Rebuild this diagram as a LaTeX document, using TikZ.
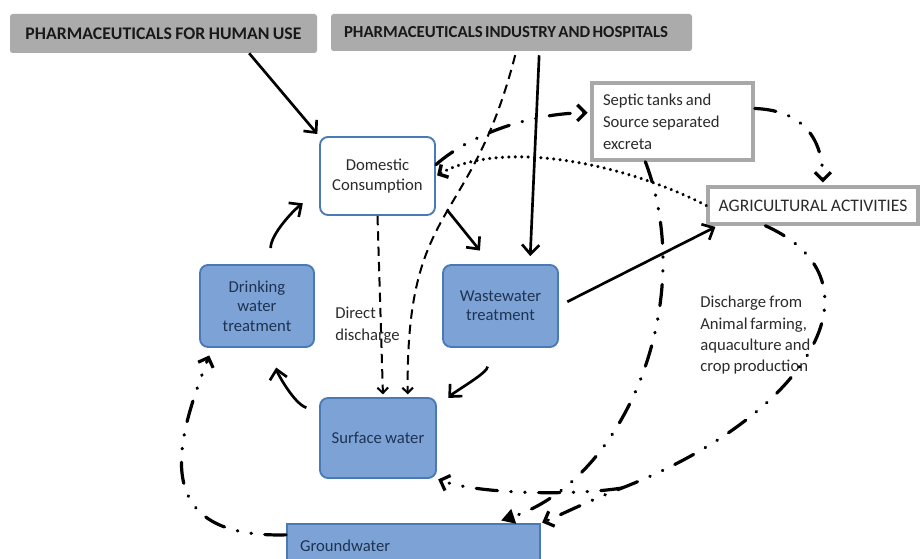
\documentclass[tikz,border=0pt]{standalone}
\usepackage{fontspec}
\setmainfont{Carlito}[WordSpace=0.85]
\newfontfamily\tightfont{Carlito}[WordSpace=0.6]
\usetikzlibrary{arrows.meta}
\definecolor{boxblue}{HTML}{7DA3D6}
\definecolor{edgeblue}{HTML}{4A7AB5}
\definecolor{hdrgray}{HTML}{ABABAB}
\definecolor{framegray}{HTML}{A8A8A8}
\definecolor{txtdark}{HTML}{2B2B2B}
\definecolor{txtblue}{HTML}{1E3252}
\begin{document}
\begin{tikzpicture}[x=0.75pt,y=-0.75pt,
  every node/.style={font=\fontsize{12.5}{14.5}\selectfont, text=txtdark},
  hdr/.style={fill=hdrgray, rounded corners=2pt, inner sep=0pt, text=black!90},
  bluebox/.style={draw=edgeblue, line width=1.4pt, fill=boxblue, rounded corners=6pt, align=center, text=txtblue, inner sep=0pt},
  whitebox/.style={draw=edgeblue, line width=1.4pt, fill=white, rounded corners=6pt, align=center, inner sep=0pt},
  framebox/.style={draw=framegray, line width=2.6pt, fill=white, inner sep=0pt},
  solidarrow/.style={line width=2pt, -{Straight Barb[length=7pt,width=13pt]}},
  dasharrow/.style={line width=1.5pt, dash pattern=on 7pt off 4.5pt, -{Straight Barb[length=4pt,width=8pt]}},
  dotarrow/.style={line width=2.6pt, line cap=round, dash pattern=on 0.01pt off 4.8pt, -{Straight Barb[length=5pt,width=11pt]}},
  ddline/.style={line width=2.4pt, line cap=round, dash pattern=on 16pt off 10pt on 0.4pt off 10pt on 0.4pt off 10pt},
  ddarrow/.style={ddline, -{Straight Barb[length=6pt,width=12pt]}},
  ddtri/.style={ddline, -{Triangle[length=10pt,width=11pt]}}
]
\fill[white] (0,0) rectangle (920,559);
\useasboundingbox (0,0) rectangle (920,559);

% nodes
\node[hdr, minimum width=230.25pt, minimum height=29.25pt, font=\fontsize{13.3}{15}\selectfont\bfseries] (hum) at (163.5,33.5) {PHARMACEUTICALS FOR HUMAN USE};
\node[hdr, minimum height=27.75pt, inner xsep=9.75pt, font=\tightfont\fontsize{12.6}{14}\selectfont\bfseries] (ind) at (511.5,32.5) {\makebox[251.25pt][l]{PHARMACEUTICALS INDUSTRY AND HOSPITALS}};
\node[whitebox, minimum width=86.25pt, minimum height=58.5pt] (dom) at (377.5,176) {Domestic\\Consumption};
\node[bluebox, minimum width=85.5pt, minimum height=61.5pt] (dwt) at (257,306) {Drinking\\water\\treatment};
\node[bluebox, minimum width=86.25pt, minimum height=61.5pt] (wwt) at (500.5,306) {Wastewater\\treatment};
\node[bluebox, minimum width=87pt, minimum height=60pt] (sw) at (378,438) {Surface water};
\node[bluebox, rounded corners=0pt, minimum height=33pt, inner xsep=9.75pt] (gw) at (413.5,546) {\makebox[170.25pt][l]{Groundwater}};
\node[framebox, minimum height=57.75pt, inner xsep=8.25pt, align=left, font=\fontsize{12.5}{16.5}\selectfont] (sep) at (672.5,121.5) {\makebox[104.25pt][l]{Septic\,tanks and}\\Source separated\\excreta};
\node[framebox, minimum width=157.5pt, minimum height=27.75pt, font=\fontsize{13.2}{15}\selectfont] (agri) at (813,205.5) {AGRICULTURAL ACTIVITIES};
\node[anchor=west, align=left, inner sep=0pt, font=\fontsize{12.5}{16.5}\selectfont] (dd) at (335,325) {Direct\\discharge};
\node[anchor=west, align=left, inner sep=0pt, font=\fontsize{12.5}{16}\selectfont] (df) at (700,335.5) {Discharge from\\Animal\,farming,\\aquaculture and\\crop production};

% solid connectors
\draw[solidarrow, shorten >=2pt] (hum.-13.5) -- (dom.north west);
\draw[solidarrow, shorten <=3pt, shorten >=6pt] (ind.-34) -- (wwt.55);
\draw[solidarrow, shorten <=13pt, shorten >=13pt] (dom.-19) -- (wwt.103);
\draw[solidarrow, shorten <=12pt, shorten >=15pt] (dwt.72) .. controls +(0,-30) and +(-25,18) .. (dom.195);
\draw[solidarrow, shorten <=10pt, shorten >=15pt] (sw.156) .. controls +(-25,-8) and +(5,25) .. (dwt.-70);
\draw[solidarrow, shorten <=14pt, shorten >=12pt] (wwt.-107) .. controls +(0,25) and +(18,-18) .. (sw.26);
\draw[solidarrow, shorten <=7pt, shorten >=2pt] (wwt.east) -- (agri.192.5);

% dashed connectors
\draw[dasharrow, shorten <=3pt, shorten >=2pt] (ind.-76) .. controls +(-46,179) and +(-2,-198) .. (sw.54);
\draw[dasharrow, shorten >=2pt] (dom.south) -- (sw.83);

% dotted connector
\draw[dotarrow, shorten >=1pt] (agri.west) .. controls +(-88,-45) and +(63,-36) .. (dom.east);

% dash-dot connectors
\draw[ddarrow, shorten >=2pt] (dom.11) .. controls +(40,-35) and +(-50,0) .. (sep.174);
\draw[ddarrow, shorten >=2pt] (sep.9.5) .. controls +(50,2) and +(0,-45) .. (agri.64);
\draw[ddtri, shorten >=6pt] (sep.-124) .. controls +(53,140) and +(132,-44) .. (gw.16.7);
\coordinate (m) at (622,488);
\draw[ddarrow, shorten >=1pt] (agri.-157) .. controls +(125,56) and +(185,-72) .. (m) .. controls +(-36,14) and +(15,-6) .. (gw.north east);
\draw[ddarrow, shorten >=1pt] (m) .. controls +(-50,8) and +(40,15) .. (sw.south east);
\draw[ddarrow, shorten >=6pt] (gw.175.5) .. controls +(-147,4) and +(-30,80) .. (dwt.-137);
\end{tikzpicture}
\end{document}
